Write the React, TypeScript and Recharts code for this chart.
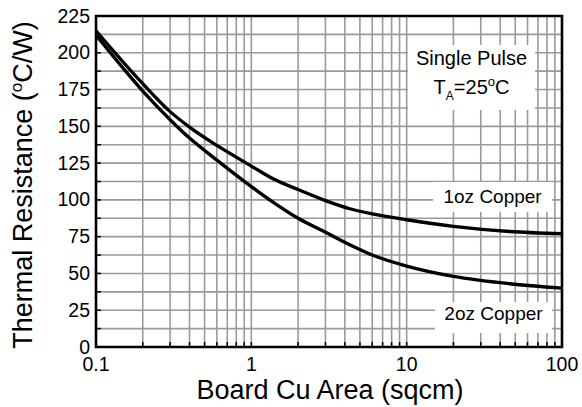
import React from "react";
import { ComposedChart, Line, XAxis, YAxis, CartesianGrid, ReferenceArea } from "recharts";

const areaValues = [0.1, 0.2, 0.3, 0.4, 0.6, 1, 1.4, 2, 3, 4.3, 6, 10, 20, 46, 100];
const oz1Values = [215, 179, 160, 149.5, 137, 123, 114, 107, 99.5, 94, 90.5, 86.5, 82, 78.5, 77];
const oz2Values = [212, 174, 154.5, 142, 127, 109, 98, 87.5, 78, 69.5, 62.5, 55, 48, 43, 40];

const xTicks = [
  0.1, 0.2, 0.3, 0.4, 0.5, 0.6, 0.7, 0.8, 0.9,
  1, 2, 3, 4, 5, 6, 7, 8, 9,
  10, 20, 30, 40, 50, 60, 70, 80, 90, 100,
];
const xLabels = [0.1, 1, 10, 100];
const yTicks = [0, 12.5, 25, 37.5, 50, 62.5, 75, 87.5, 100, 112.5, 125, 137.5, 150, 162.5, 175, 187.5, 200, 212.5, 225];
const yLabels = [0, 25, 50, 75, 100, 125, 150, 175, 200, 225];

const data = areaValues.map((a, i) => ({ area: a, oz1: oz1Values[i], oz2: oz2Values[i] }));

const FONT = "'Liberation Sans', Arial, sans-serif";

const XTick = (props: any) => {
  const { x, y, payload } = props;
  const v = payload.value;
  const show = xLabels.some((l) => Math.abs(l - v) < 1e-9);
  return (
    <g>
      <line x1={x} y1={y} x2={x} y2={y - 5} stroke="#000" strokeWidth={1.5} />
      {show && (
        <text x={x} y={y + 24} textAnchor="middle" fontSize={19.5} fontFamily={FONT} fill="#000">
          {String(v)}
        </text>
      )}
    </g>
  );
};

const YTick = (props: any) => {
  const { x, y, payload } = props;
  const v = payload.value;
  const show = yLabels.includes(v);
  return (
    <g>
      <line x1={x} y1={y} x2={x + 5} y2={y} stroke="#000" strokeWidth={1.5} />
      {show && (
        <text x={x - 6} y={y + 6.5} textAnchor="end" fontSize={19.5} fontFamily={FONT} fill="#000">
          {String(v)}
        </text>
      )}
    </g>
  );
};

const YTitle = () => (
  <text
    transform="translate(32,185) rotate(-90)"
    textAnchor="middle"
    fontSize={27}
    fontFamily={FONT}
    fill="#000"
  >
    <tspan>Thermal Resistance (</tspan>
    <tspan fontSize={17} dy={-10}>o</tspan>
    <tspan dy={10}>C/W)</tspan>
  </text>
);

const XTitle = () => (
  <text x={330} y={399} textAnchor="middle" fontSize={27} fontFamily={FONT} fill="#000">
    Board Cu Area (sqcm)
  </text>
);

const PulseText = (props: any) => {
  const { viewBox } = props;
  const cx = viewBox.x + viewBox.width / 2;
  const top = viewBox.y;
  return (
    <g fontFamily={FONT} fill="#000">
      <text x={cx} y={top + 20} textAnchor="middle" fontSize={20}>Single Pulse</text>
      <text x={cx} y={top + 49} textAnchor="middle" fontSize={20}>
        <tspan>T</tspan>
        <tspan fontSize={12} dy={6}>A</tspan>
        <tspan dy={-6}>=25</tspan>
        <tspan fontSize={13} dy={-8}>o</tspan>
        <tspan dy={8}>C</tspan>
      </text>
    </g>
  );
};

const BoxText = (text: string, base: number) => (props: any) => {
  const { viewBox } = props;
  const cx = viewBox.x + viewBox.width / 2;
  return (
    <text x={cx} y={viewBox.y + base} textAnchor="middle" fontSize={19} fontFamily={FONT} fill="#000">
      {text}
    </text>
  );
};

export default function App() {
  return (
    <div style={{ position: "absolute", left: 0, top: 0, width: 582, height: 407, background: "#fff" }}>
      <ComposedChart width={582} height={407} data={data} margin={{ top: 16, right: 20, left: 0, bottom: 0 }}>
        <CartesianGrid stroke="#9a9a9a" strokeWidth={1.6} />
        <XAxis
          dataKey="area"
          type="number"
          scale="log"
          domain={[0.1, 100]}
          allowDataOverflow
          ticks={xTicks}
          interval={0}
          tick={<XTick />}
          tickLine={false}
          tickSize={0}
          tickMargin={0}
          axisLine={false}
          height={60}
          label={<XTitle />}
        />
        <YAxis
          type="number"
          domain={[0, 225]}
          ticks={yTicks}
          interval={0}
          tick={<YTick />}
          tickLine={false}
          tickSize={0}
          tickMargin={0}
          axisLine={false}
          width={96}
          label={<YTitle />}
        />
        <ReferenceArea x1={10.2} x2={67.1} y1={161.1} y2={205.3} fill="#fff" fillOpacity={1} stroke="none" label={<PulseText />} />
        <ReferenceArea x1={14.8} x2={86.3} y1={91.8} y2={112.2} fill="#fff" fillOpacity={1} stroke="none" label={BoxText("1oz Copper", 21)} />
        <ReferenceArea x1={15.2} x2={86.3} y1={9.5} y2={30.6} fill="#fff" fillOpacity={1} stroke="none" label={BoxText("2oz Copper", 18)} />
        <ReferenceArea x1={0.1} x2={100} y1={0} y2={225} fill="none" fillOpacity={0} stroke="#000" strokeWidth={2.6} />
        <Line dataKey="oz1" type="monotone" stroke="#000" strokeWidth={3.3} dot={false} isAnimationActive={false} />
        <Line dataKey="oz2" type="monotone" stroke="#000" strokeWidth={3.3} dot={false} isAnimationActive={false} />
      </ComposedChart>
    </div>
  );
}
